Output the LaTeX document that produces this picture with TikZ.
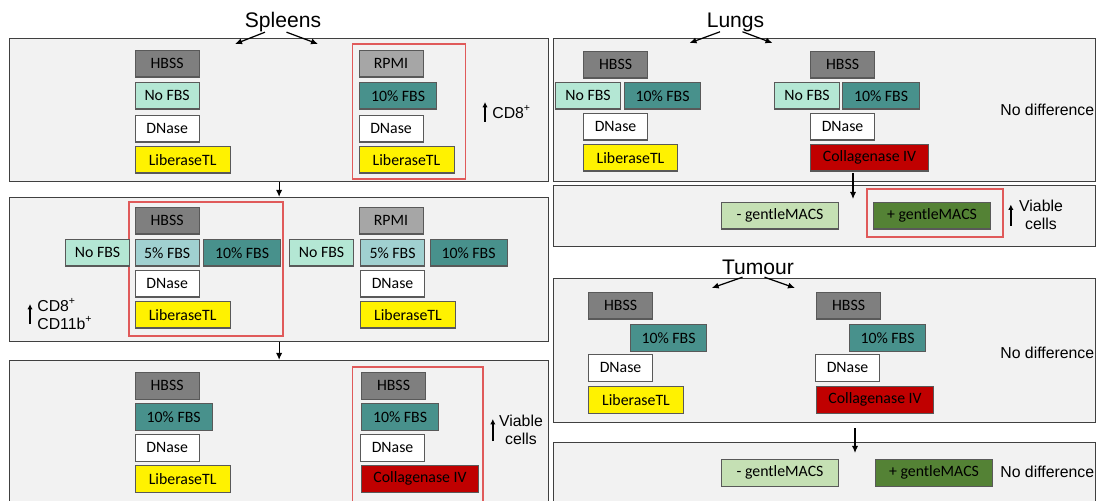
\documentclass[tikz,border=0pt]{standalone}
\usepackage{fontspec}
\setmainfont{Liberation Sans}
\newfontfamily\calfont{Carlito}
\usetikzlibrary{arrows.meta}
\definecolor{panelgray}{RGB}{242,242,242}
\definecolor{boxline}{RGB}{89,89,89}
\definecolor{selred}{RGB}{224,90,90}
\definecolor{hbssgray}{RGB}{127,127,127}
\definecolor{rpmigray}{RGB}{166,166,166}
\definecolor{mint}{RGB}{180,231,212}
\definecolor{teallight}{RGB}{160,208,208}
\definecolor{tealdark}{RGB}{72,145,140}
\definecolor{collred}{RGB}{192,0,0}
\definecolor{macslight}{RGB}{197,224,180}
\definecolor{macsdark}{RGB}{84,130,53}
\begin{document}
\begin{tikzpicture}[x=0.02cm,y=-0.02cm,
  panel/.style={draw=black!75,line width=0.7pt,fill=panelgray,anchor=north west,inner sep=0pt},
  box/.style={draw=boxline,line width=0.6pt,anchor=north west,minimum height=0.53cm,inner sep=0pt,font=\calfont\fontsize{9}{10}\selectfont},
  wd/.style={minimum width=#1*0.02cm},
  hbssbox/.style={box,wd=64,fill=hbssgray},
  rpmibox/.style={box,wd=64,fill=rpmigray},
  nofbs/.style={box,wd=64,fill=mint},
  fbsfive/.style={box,wd=64,fill=teallight},
  fbsten/.style={box,wd=77,fill=tealdark},
  dnase/.style={box,wd=64,fill=white},
  liberase/.style={box,wd=95,fill=yellow},
  collag/.style={box,wd=117,fill=collred},
  gmminus/.style={box,wd=117,fill=macslight},
  gmplus/.style={box,wd=117,fill=macsdark},
  sel/.style={draw=selred,line width=0.6pt},
  arr/.style={-{Latex[length=4pt,width=3.5pt]},line width=0.7pt},
  uparr/.style={-{Latex[length=3pt,width=3pt]},line width=0.8pt},
  lab/.style={font=\fontsize{9}{10.2}\selectfont,inner sep=0pt},
  ttl/.style={font=\fontsize{12}{14}\selectfont,inner sep=0pt}]
\useasboundingbox (0,0) rectangle (1097,500);
\clip (0,0) rectangle (1097,500);

% spleens
\node[ttl] (spT) at (283,22) {Spleens};
\coordinate (spL) at (235,44);
\coordinate (spR) at (318,44);
\node[panel,wd=539,minimum height=143*0.02cm] (sp1) at (9,38) {};
\node[panel,wd=539,minimum height=144*0.02cm] (sp2) at (9,197) {};
\node[panel,wd=539,minimum height=150*0.02cm] (sp3) at (9,360) {};
\draw[arr] ([xshift=-0.36cm]spT.south) -- (spL);
\draw[arr] ([xshift=0.07cm]spT.south) -- (spR);
\draw[arr] (sp1.south) -- (sp2.north);
\draw[arr] (sp2.south) -- (sp3.north);

\draw[sel] (352.5,44) rectangle (465.7,179);
\node[hbssbox] (s1Hbss) at (134.6,50) {HBSS};
\node[nofbs] (s1No) at (134.6,82) {No FBS};
\node[dnase] (s1Dn) at (134.6,115) {DNase};
\node[liberase] (s1Lib) at (134.6,146) {LiberaseTL};
\node[rpmibox] (s1Rpmi) at (358.5,50) {RPMI};
\node[fbsten] (s1Ten) at (359,82) {10\% FBS};
\node[dnase] (s1DnB) at (358.5,115) {DNase};
\node[liberase] (s1LibB) at (358.5,146) {LiberaseTL};
\node[lab,anchor=west] (s1Cd) at (492,112) {CD8\textsuperscript{+}};
\draw[uparr] ([shift={(-0.14cm,-0.2cm)}]s1Cd.west) -- ([shift={(-0.14cm,0.2cm)}]s1Cd.west);

\draw[sel] (129,202) rectangle (283,336);
\node[hbssbox] (s2Hbss) at (134.6,207) {HBSS};
\node[nofbs] (s2No) at (65,239) {No FBS};
\node[fbsfive] (s2Five) at (134.6,239) {5\% FBS};
\node[fbsten] (s2Ten) at (203,239) {10\% FBS};
\node[dnase] (s2Dn) at (134.6,270) {DNase};
\node[liberase] (s2Lib) at (134.6,301) {LiberaseTL};
\node[rpmibox] (s2Rpmi) at (358.5,207) {RPMI};
\node[nofbs] (s2NoB) at (289,239) {No FBS};
\node[fbsfive] (s2FiveB) at (360,239) {5\% FBS};
\node[fbsten] (s2TenB) at (429.5,239) {10\% FBS};
\node[dnase] (s2DnB) at (360,270) {DNase};
\node[liberase] (s2LibB) at (360,301) {LiberaseTL};
\node[lab,anchor=west,align=left] (s2Cd) at (37,314) {CD8\textsuperscript{+}\\CD11b\textsuperscript{+}};
\draw[uparr] ([shift={(-0.14cm,-0.2cm)}]s2Cd.west) -- ([shift={(-0.14cm,0.2cm)}]s2Cd.west);

\draw[sel] (352.5,367) rectangle (483,505);
\node[hbssbox] (s3Hbss) at (134.6,372) {HBSS};
\node[fbsten] (s3Ten) at (134.6,403) {10\% FBS};
\node[dnase] (s3Dn) at (134.6,434) {DNase};
\node[liberase] (s3Lib) at (134.6,465) {LiberaseTL};
\node[hbssbox] (s3HbssB) at (361,372) {HBSS};
\node[fbsten] (s3TenB) at (361,403) {10\% FBS};
\node[dnase] (s3DnB) at (360,434) {DNase};
\node[collag] (s3Coll) at (361,465) {Collagenase IV};
\node[lab,align=center] (s3Via) at (521,430) {Viable\\cells};
\draw[uparr] ([shift={(-0.12cm,-0.22cm)}]s3Via.west) -- ([shift={(-0.12cm,0.22cm)}]s3Via.west);

% lungs
\node[ttl] (luT) at (735.5,22) {Lungs};
\coordinate (luL) at (689.5,43);
\coordinate (luR) at (772.5,43);
\node[panel,wd=542,minimum height=143*0.02cm] (lu1) at (553,38) {};
\node[panel,wd=542,minimum height=61*0.02cm] (lu2) at (553,185) {};
\draw[arr] ([xshift=-0.31cm]luT.south) -- (luL);
\draw[arr] ([xshift=0.14cm]luT.south) -- (luR);

\node[hbssbox] (lHbss) at (583,51) {HBSS};
\node[nofbs,wd=65] (lNo) at (555,82) {No FBS};
\node[fbsten,wd=76] (lTen) at (624,82) {10\% FBS};
\node[dnase] (lDn) at (583,113) {DNase};
\node[liberase,wd=94] (lLib) at (583,144) {LiberaseTL};
\node[hbssbox] (lHbssB) at (810,51) {HBSS};
\node[nofbs,wd=65] (lNoB) at (774,82) {No FBS};
\node[fbsten] (lTenB) at (842,82) {10\% FBS};
\node[dnase] (lDnB) at (810,113) {DNase};
\node[collag,wd=118] (lColl) at (810,144) {Collagenase IV};
\node[lab,anchor=west] (lNod) at (1000,110) {No difference};
\coordinate (lFrom) at (853,173);
\coordinate (lTo) at (853,199);
\draw[arr] (lFrom) -- (lTo);

\draw[sel] (867,189) rectangle (1003,237);
\node[gmminus] (lMin) at (721,202) {- gentleMACS};
\node[gmplus] (lPlus) at (873,202) {+ gentleMACS};
\node[lab,align=center] (lVia) at (1041,215) {Viable\\cells};
\draw[uparr] ([shift={(-0.16cm,-0.21cm)}]lVia.west) -- ([shift={(-0.16cm,0.21cm)}]lVia.west);

% tumour
\node[ttl] (tuT) at (758,267.5) {Tumour};
\coordinate (tuL) at (711.7,288);
\coordinate (tuR) at (795,288);
\node[panel,wd=542,minimum height=144*0.02cm] (tu1) at (553,278) {};
\node[panel,wd=542,minimum height=70*0.02cm] (tu2) at (553,442) {};
\draw[arr] ([xshift=-0.31cm,yshift=-0.04cm]tuT.south) -- (tuL);
\draw[arr] ([xshift=0.13cm,yshift=-0.04cm]tuT.south) -- (tuR);

\node[hbssbox] (tHbss) at (588,292) {HBSS};
\node[fbsten,wd=76] (tTen) at (630,324) {10\% FBS};
\node[dnase] (tDn) at (588,354) {DNase};
\node[liberase] (tLib) at (588,386) {LiberaseTL};
\node[hbssbox] (tHbssB) at (816,292) {HBSS};
\node[fbsten,wd=76] (tTenB) at (849,324) {10\% FBS};
\node[dnase] (tDnB) at (815,354) {DNase};
\node[collag] (tColl) at (816,386) {Collagenase IV};
\node[lab,anchor=west] (tNod) at (1000,353) {No difference};
\coordinate (tFrom) at (855,428);
\coordinate (tTo) at (855,453);
\draw[arr] (tFrom) -- (tTo);

\node[gmminus] (tMin) at (721,459) {- gentleMACS};
\node[gmplus] (tPlus) at (875,459) {+ gentleMACS};
\node[lab,anchor=west] (tNodB) at (1000,472) {No difference};
\end{tikzpicture}
\end{document}
